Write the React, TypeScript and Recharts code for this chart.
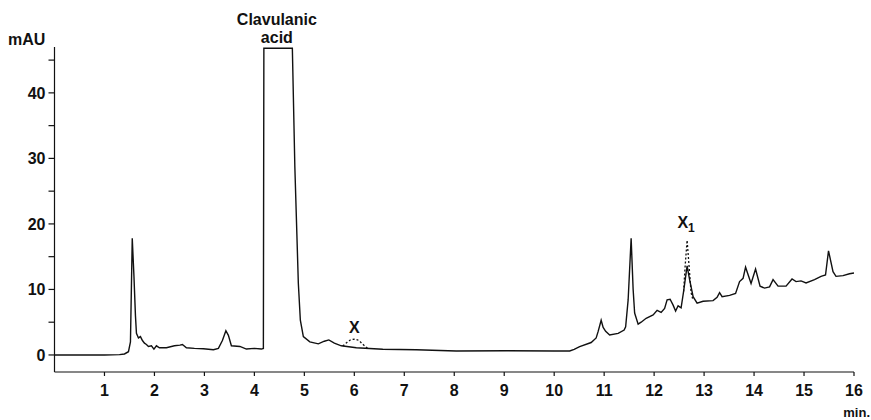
import { LineChart, Line, XAxis, YAxis, ReferenceDot } from 'recharts';

// retention time (min) and detector signal (mAU) of the sample trace
const traceTime = [
  0, 1.0, 1.3, 1.4, 1.48, 1.52, 1.556, 1.59, 1.62, 1.64, 1.68, 1.72, 1.76, 1.8, 1.84, 1.88, 1.94, 1.99,
  2.04, 2.1, 2.24, 2.4, 2.51, 2.56, 2.64, 2.8, 2.98, 3.18, 3.28, 3.36, 3.43, 3.48, 3.54, 3.71, 3.84,
  4.0, 4.14, 4.18, 4.19, 4.76, 4.81, 4.88, 4.92, 4.98, 5.11, 5.28, 5.4, 5.49, 5.6, 5.74, 6.04, 6.57,
  7.24, 8.04, 9.04, 10.0, 10.31, 10.4, 10.51, 10.74, 10.84, 10.88, 10.94, 10.98, 11.03, 11.11, 11.28,
  11.4, 11.43, 11.48, 11.54, 11.58, 11.61, 11.68, 11.74, 11.84, 11.98, 12.06, 12.14, 12.21, 12.26,
  12.32, 12.38, 12.43, 12.48, 12.54, 12.59, 12.66, 12.71, 12.78, 12.86, 12.98, 13.18, 13.26, 13.31,
  13.36, 13.51, 13.63, 13.71, 13.78, 13.83, 13.94, 14.03, 14.12, 14.21, 14.31, 14.38, 14.48, 14.64,
  14.76, 14.84, 14.94, 15.04, 15.21, 15.34, 15.43, 15.49, 15.58, 15.64, 15.78, 15.91, 16.0,
];
const traceSignal = [
  0, 0, 0.05, 0.15, 0.5, 2.0, 17.8, 12, 6, 3.3, 2.6, 2.8, 2.2, 1.8, 1.6, 1.3, 1.4, 0.9,
  1.4, 1.1, 1.1, 1.4, 1.5, 1.6, 1.1, 1.0, 0.95, 0.8, 1.0, 2.2, 3.7, 3.0, 1.4, 1.3, 0.9,
  1.0, 0.9, 1.0, 46.8, 46.8, 28.7, 10.9, 5.3, 2.8, 2.0, 1.7, 2.1, 2.3, 1.8, 1.4, 1.1, 0.87,
  0.8, 0.6, 0.65, 0.6, 0.6, 0.85, 1.27, 1.9, 2.6, 3.6, 5.3, 4.2, 3.6, 3.05, 3.3,
  3.8, 4.3, 8.4, 17.8, 10, 6.4, 4.7, 5.0, 5.6, 6.1, 6.8, 6.5, 7.1, 8.4,
  8.5, 7.6, 6.7, 7.5, 7.2, 9.7, 13.6, 11.5, 8.9, 7.9, 8.2, 8.3, 8.8, 9.5,
  8.9, 9.1, 9.4, 11.2, 11.7, 13.4, 10.9, 13.1, 10.5, 10.2, 10.4, 11.5, 10.5, 10.5,
  11.6, 11.2, 11.3, 11.0, 11.5, 12.0, 12.2, 15.9, 12.7, 12.0, 12.1, 12.4, 12.5,
];

// dotted peaks (X near 6 min, X1 near 12.7 min)
const peakXTime = [5.77, 5.85, 5.93, 6.0, 6.08, 6.16, 6.27];
const peakXSignal = [1.35, 1.9, 2.3, 2.4, 2.25, 1.7, 1.0];
const peakX1Time = [12.59, 12.62, 12.66, 12.7, 12.74, 12.77];
const peakX1Signal = [9.7, 13.5, 17.5, 13.5, 9.5, 8.6];

const xTicks = [1, 2, 3, 4, 5, 6, 7, 8, 9, 10, 11, 12, 13, 14, 15, 16];
const yTicks = [0, 5, 10, 15, 20, 25, 30, 35, 40, 45];

const trace = traceTime.map((t, i) => ({ t, v: traceSignal[i] }));
const peakX = peakXTime.map((t, i) => ({ t, v: peakXSignal[i] }));
const peakX1 = peakX1Time.map((t, i) => ({ t, v: peakX1Signal[i] }));

const FONT = '"Liberation Sans", Arial, Helvetica, sans-serif';
const INK = '#111';

const YTick = ({ x, y, payload }: any) =>
  payload.value % 10 === 0 ? (
    <text x={x} y={y} dy="0.355em" textAnchor="end" fill={INK} fontSize={16} fontWeight={700} fontFamily={FONT}>
      {payload.value}
    </text>
  ) : (
    <g />
  );

export default function App() {
  return (
    <div style={{ position: 'absolute', left: 0, top: 0, width: 871, height: 420, background: '#fff' }}>
      <LineChart width={871} height={420} data={trace} margin={{ top: 47, right: 17, bottom: 0, left: 0 }}>
        <XAxis
          dataKey="t"
          type="number"
          domain={[0, 16]}
          ticks={xTicks}
          height={48}
          stroke={INK}
          strokeWidth={1.2}
          tickSize={4}
          tickMargin={9}
          tick={{ fill: INK, fontSize: 16, fontWeight: 700, fontFamily: FONT }}
        />
        <YAxis
          type="number"
          domain={[-2.6, 47]}
          ticks={yTicks}
          width={54.5}
          stroke={INK}
          strokeWidth={1.2}
          tickSize={6}
          tickMargin={3}
          tick={<YTick />}
        />
        <Line
          dataKey="v"
          type="linear"
          stroke={INK}
          strokeWidth={1.4}
          dot={false}
          activeDot={false}
          isAnimationActive={false}
        />
        <Line
          data={peakX}
          dataKey="v"
          type="monotone"
          stroke={INK}
          strokeWidth={1.3}
          strokeDasharray="2 2"
          dot={false}
          activeDot={false}
          isAnimationActive={false}
        />
        <Line
          data={peakX1}
          dataKey="v"
          type="linear"
          stroke={INK}
          strokeWidth={1.3}
          strokeDasharray="2 2"
          dot={false}
          activeDot={false}
          isAnimationActive={false}
        />
        <ReferenceDot
          x={4.45}
          y={47}
          r={0}
          fill="none"
          stroke="none"
          label={({ viewBox }: any) => (
            <g>
              <text x={viewBox.x} y={viewBox.y - 22.5} textAnchor="middle" fill={INK} fontSize={16} fontWeight={700} fontFamily={FONT}>
                Clavulanic
              </text>
              <text x={viewBox.x} y={viewBox.y - 4} textAnchor="middle" fill={INK} fontSize={16} fontWeight={700} fontFamily={FONT}>
                acid
              </text>
            </g>
          )}
        />
        <ReferenceDot
          x={6.0}
          y={2.4}
          r={0}
          fill="none"
          stroke="none"
          label={({ viewBox }: any) => (
            <text x={viewBox.x} y={viewBox.y - 6} textAnchor="middle" fill={INK} fontSize={16} fontWeight={700} fontFamily={FONT}>
              X
            </text>
          )}
        />
        <ReferenceDot
          x={12.66}
          y={17.5}
          r={0}
          fill="none"
          stroke="none"
          label={({ viewBox }: any) => (
            <text x={viewBox.x - 1} y={viewBox.y - 12} textAnchor="middle" fill={INK} fontSize={16} fontWeight={700} fontFamily={FONT}>
              X<tspan dy={4} fontSize={12}>1</tspan>
            </text>
          )}
        />
        <text x={8} y={45} fill={INK} fontSize={16} fontWeight={700} fontFamily={FONT}>
          mAU
        </text>
        <text x={870} y={417} textAnchor="end" fill={INK} fontSize={13} fontWeight={700} fontFamily={FONT}>
          min.
        </text>
      </LineChart>
    </div>
  );
}
